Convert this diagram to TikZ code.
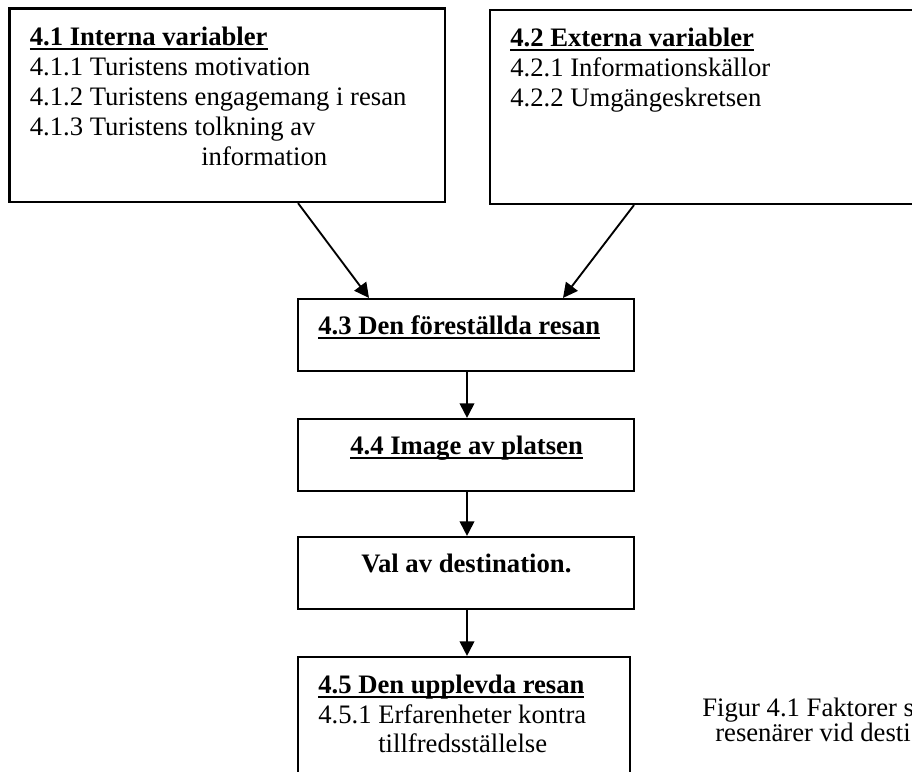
\documentclass[tikz,border=0pt]{standalone}
\usepackage{fontspec}
\setmainfont{Liberation Serif}
\usetikzlibrary{arrows.meta,calc,fit}
\newcommand\myul[1]{\setbox0\hbox{#1}\rlap{\rule[-4pt]{\wd0}{1.5pt}}\box0}
\begin{document}
\begin{tikzpicture}[x=0.75pt,y=-0.75pt,
  box/.style={draw,line width=1.6pt,inner sep=0pt,rectangle},
  txt/.style={anchor=base west,inner sep=0pt,font=\fontsize{20}{24}\selectfont},
  hd/.style={anchor=base west,inner sep=0pt,font=\fontsize{20}{24}\selectfont\bfseries},
  arr/.style={line width=1.4pt,-{Triangle[length=11pt,width=11pt]}}]
\useasboundingbox (0,0) rectangle (912,771);
\clip (0,0) rectangle (912,771);
% corner coordinates
\coordinate (a1) at (9.5,8.5);   \coordinate (b1) at (445,202);
\coordinate (a2) at (490,10);    \coordinate (b2) at (950,204);
\coordinate (a3) at (298,299);   \coordinate (b3) at (634,371);
\coordinate (a4) at (298,419);   \coordinate (b4) at (634,491);
\coordinate (a5) at (298,537);   \coordinate (b5) at (634,609);
\coordinate (a6) at (298,657);   \coordinate (b6) at (630,810);
% boxes
\node[box,fit={(a1)(b1)}] (n1) {};
\node[box,fit={(a2)(b2)}] (n2) {};
\node[box,fit={(a3)(b3)}] (n3) {};
\node[box,fit={(a4)(b4)}] (n4) {};
\node[box,fit={(a5)(b5)}] (n5) {};
\node[box,fit={(a6)(b6)}] (n6) {};
% texts box 1
\node[hd]  (t1a) at (29.5,45)  {\myul{4.1 Interna variabler}};
\node[txt] (t1b) at (29.5,75)  {4.1.1 Turistens motivation};
\node[txt] (t1c) at (29.5,105) {4.1.2 Turistens engagemang i resan};
\node[txt] (t1d) at (29.5,135) {4.1.3 Turistens tolkning av};
\node[txt] (t1e) at (201,165)  {information};
% texts box 2
\node[hd]  (t2a) at (510,46)  {\myul{4.2 Externa variabler}};
\node[txt] (t2b) at (510,76)  {4.2.1 Informationskällor};
\node[txt] (t2c) at (510,106) {4.2.2 Umgängeskretsen};
% texts middle boxes
\node[hd] (t3) at (318,334) {\myul{4.3 Den föreställda resan}};
\node[hd] (t4) at (350,454) {\myul{4.4 Image av platsen}};
\node[hd] (t5) at (361,572) {Val av destination.};
% texts box 6
\node[hd]  (t6a) at (318,693) {\myul{4.5 Den upplevda resan}};
\node[txt] (t6b) at (318,723) {4.5.1 Erfarenheter kontra};
\node[txt] (t6c) at (378,752) {tillfredsställelse};
% caption
\node[txt] (c1) at (702,716) {Figur 4.1 Faktorer s};
\node[txt] (c2) at (715,741) {resenärer vid desti};
% arrows
\draw[arr] ($(n1.south)+(70.75,0)$) -- ($(n3.north)+(-97,0)$);
\draw[arr] ($(n2.south)+(-86,0)$) -- ($(n3.north)+(97,0)$);
\coordinate (v3) at ($(n3.south)+(1,0)$);
\coordinate (v4) at ($(n4.south)+(1,0)$);
\coordinate (v5) at ($(n5.south)+(1,0)$);
\draw[arr] (v3) -- (v3 |- n4.north);
\draw[arr] (v4) -- (v4 |- n5.north);
\draw[arr] (v5) -- (v5 |- n6.north);
\end{tikzpicture}
\end{document}
